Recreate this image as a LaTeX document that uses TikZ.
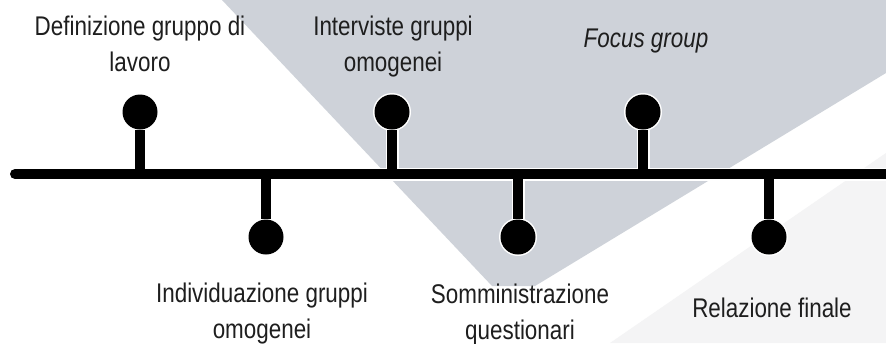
\documentclass[tikz,border=0pt]{standalone}
\usepackage{fontspec}
\setmainfont[FakeStretch=0.83]{Liberation Sans}
\definecolor{bandgray}{RGB}{206,210,217}
\definecolor{lightband}{RGB}{244,244,245}
\definecolor{txt}{RGB}{30,30,30}
\newcommand{\twolines}[2]{\begin{tabular}[t]{@{}c@{}}#1\\#2\end{tabular}}
\begin{document}
\begin{tikzpicture}[x=1pt,y=-1pt,
  lbl/.style={anchor=base,inner sep=0pt,text=txt,font=\fontsize{27}{36}\selectfont},
  dotnode/.style={circle,fill=black,minimum size=35pt,inner sep=0pt,
    preaction={draw=white,line width=3pt}},
  halo/.style={draw=white,line width=13pt},
  bar/.style={draw=black,line width=10pt}]
% background and bounding box
\fill[white] (0,0) rectangle (886,343);
\useasboundingbox (0,0) rectangle (886,343);
% background bands
\fill[bandgray] (222,0) -- (886,0) -- (886,73) -- (535,286) -- (492,286) -- cycle;
\fill[lightband] (610,343) -- (886,153) -- (886,343) -- cycle;
% timeline points
\coordinate (L) at (15,174);
\coordinate (R) at (892,174);
\coordinate (t1) at (140,174);
\coordinate (t2) at (266,174);
\coordinate (t3) at (392,174);
\coordinate (t4) at (518,174);
\coordinate (t5) at (643,174);
\coordinate (t6) at (769,174);
% dots
\node[dotnode] (c1) at (140,112) {};
\node[dotnode] (c2) at (266,237) {};
\node[dotnode] (c3) at (392,112) {};
\node[dotnode] (c4) at (518,237) {};
\node[dotnode] (c5) at (643,112) {};
\node[dotnode] (c6) at (769,237) {};
% halos
\draw[halo,line cap=round] (L) -- (R);
\foreach \i in {1,...,6} {\draw[halo] (t\i) -- (c\i);}
% black bars
\draw[bar,line cap=round] (L) -- (R);
\foreach \i in {1,...,6} {\draw[bar] (t\i) -- (c\i);}
% labels
\node[lbl] (l1) at (140,35) {\twolines{Definizione gruppo di}{lavoro}};
\node[lbl] (l3) at (393,35) {\twolines{Interviste gruppi}{omogenei}};
\node[lbl] (l5) at (646,47) {\itshape Focus group};
\node[lbl] (l2) at (262,302) {\twolines{Individuazione gruppi}{omogenei}};
\node[lbl] (l4) at (520,303) {\twolines{Somministrazione}{questionari}};
\node[lbl] (l6) at (772,317) {Relazione finale};
\end{tikzpicture}
\end{document}
